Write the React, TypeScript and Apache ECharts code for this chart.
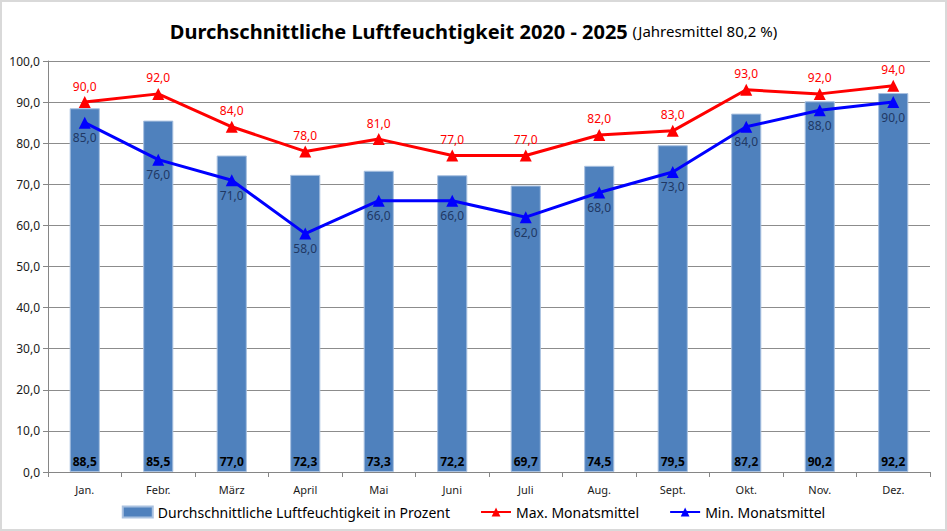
import React, { useEffect, useRef } from "react";
import * as echarts from "echarts";

const categories = ["Jan.", "Febr.", "März", "April", "Mai", "Juni", "Juli", "Aug.", "Sept.", "Okt.", "Nov.", "Dez."];
const avgValues = [88.5, 85.5, 77.0, 72.3, 73.3, 72.2, 69.7, 74.5, 79.5, 87.2, 90.2, 92.2];
const maxValues = [90, 92, 84, 78, 81, 77, 77, 82, 83, 93, 92, 94];
const minValues = [85, 76, 71, 58, 66, 66, 62, 68, 73, 84, 88, 90];

const fmt = (v: number) => v.toFixed(1).replace(".", ",");
const FONT = "'Noto Sans', sans-serif";

export default function App() {
  const ref = useRef<HTMLDivElement>(null);
  useEffect(() => {
    if (!ref.current) return;
    const chart = echarts.init(ref.current, undefined, { renderer: "svg" });
    chart.setOption({
      animation: false,
      backgroundColor: "#ffffff",
      textStyle: { fontFamily: FONT },
      title: {
        text: "{a|Durchschnittliche Luftfeuchtigkeit 2020 - 2025} {b|(Jahresmittel 80,2 %)}",
        left: "center",
        top: 16,
        textStyle: {
          fontWeight: "normal",
          rich: {
            a: { fontFamily: FONT, fontSize: 20, fontWeight: "bold", color: "#000" },
            b: { fontFamily: FONT, fontSize: 15, fontWeight: "normal", color: "#000" },
          },
        },
      },
      graphic: [
        {
          type: "rect",
          shape: { x: 1, y: 1, width: 945, height: 529 },
          style: { fill: "none", stroke: "#d9d9d9", lineWidth: 2 },
          silent: true,
        },
      ],
      legend: {
        bottom: 7,
        left: "center",
        itemGap: 30,
        itemWidth: 30,
        itemHeight: 11,
        textStyle: { fontFamily: FONT, fontSize: 14, color: "#000" },
        data: [
          { name: "Durchschnittliche Luftfeuchtigkeit in Prozent", icon: "rect" },
          { name: "Max. Monatsmittel" },
          { name: "Min. Monatsmittel" },
        ],
      },
      grid: { left: 48, right: 17, top: 61, bottom: 59 },
      xAxis: {
        type: "category",
        data: categories,
        axisLine: { lineStyle: { color: "#868686", width: 1 } },
        axisTick: { show: true, alignWithLabel: false, length: 5, lineStyle: { color: "#868686" } },
        axisLabel: { fontFamily: FONT, fontSize: 11, color: "#1a1a1a", margin: 12 },
      },
      yAxis: {
        type: "value",
        min: 0,
        max: 100,
        interval: 10,
        axisLine: { show: true, lineStyle: { color: "#868686" } },
        axisTick: { show: true, length: 5, lineStyle: { color: "#868686" } },
        axisLabel: { fontFamily: FONT, fontSize: 12, color: "#1a1a1a", formatter: (v: number) => fmt(v), margin: 8 },
        splitLine: { lineStyle: { color: "#8c8c8c", width: 1 } },
      },
      series: [
        {
          name: "Durchschnittliche Luftfeuchtigkeit in Prozent",
          type: "bar",
          data: avgValues,
          barWidth: "41%",
          itemStyle: { color: "#4f81bd", borderColor: "#a9c1e0", borderWidth: 1 },
          label: {
            show: true,
            position: "insideBottom",
            distance: 5,
            fontFamily: FONT,
            fontSize: 12,
            fontWeight: "bold",
            color: "#000",
            formatter: (p: any) => fmt(p.value),
          },
          z: 1,
        },
        {
          name: "Max. Monatsmittel",
          type: "line",
          data: maxValues,
          symbol: "triangle",
          symbolSize: 12,
          lineStyle: { color: "#ff0000", width: 3 },
          itemStyle: { color: "#ff0000" },
          label: {
            show: true,
            position: "top",
            distance: 4,
            fontFamily: FONT,
            fontSize: 12,
            color: "#ff0000",
            formatter: (p: any) => fmt(p.value),
          },
          z: 3,
        },
        {
          name: "Min. Monatsmittel",
          type: "line",
          data: minValues,
          symbol: "triangle",
          symbolSize: 12,
          lineStyle: { color: "#0000ff", width: 3 },
          itemStyle: { color: "#0000ff" },
          label: {
            show: true,
            position: "bottom",
            distance: 3,
            fontFamily: FONT,
            fontSize: 12,
            color: "#1f3864",
            formatter: (p: any) => fmt(p.value),
          },
          z: 4,
        },
      ],
    });
    return () => chart.dispose();
  }, []);
  return (
    <div
      ref={ref}
      style={{ position: "fixed", left: 0, top: 0, width: 947, height: 531 }}
    />
  );
}
